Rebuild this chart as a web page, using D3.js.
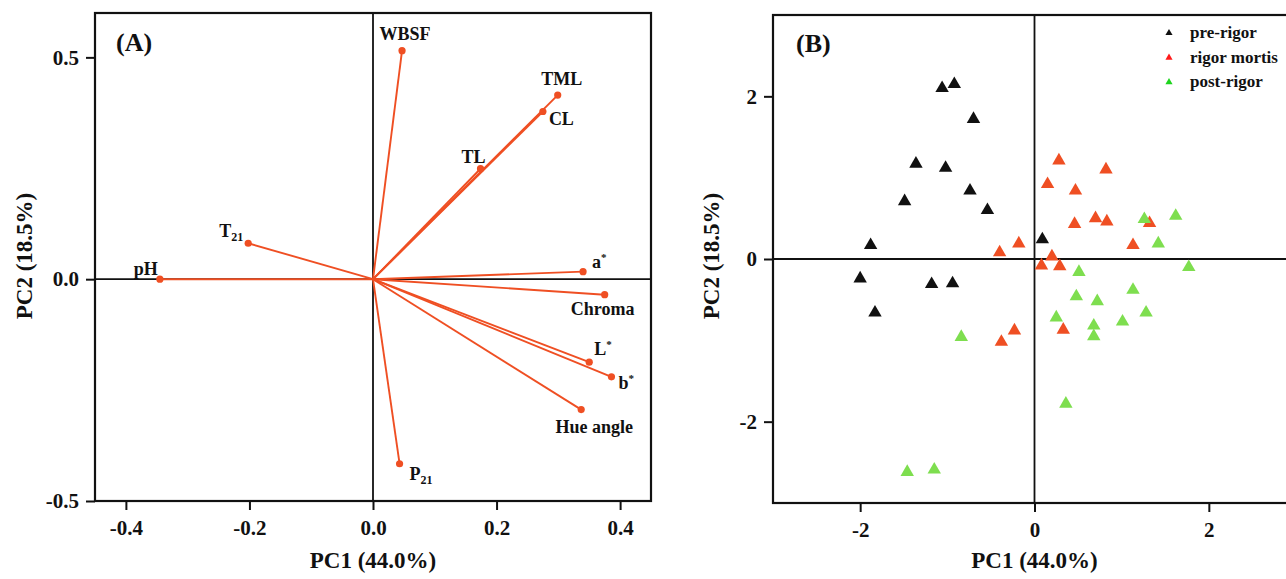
<!DOCTYPE html>
<html>
<head>
<meta charset="utf-8">
<script src="https://cdn.jsdelivr.net/npm/d3@7"></script>
<style>
    body { margin: 0; background: #fff; }
    svg text { font-family: "Liberation Serif", "Times New Roman", serif; font-weight: bold; fill: #111; }
</style>
</head>
<body>
<svg id="chart" width="1286" height="579"></svg>
<script>
// loadings (panel A)
const varNames = ["pH", "T21", "WBSF", "TML", "CL", "TL", "a*", "Chroma", "L*", "b*", "Hue angle", "P21"]
const pc1Loadings = [-0.345, -0.202, 0.047, 0.299, 0.275, 0.174, 0.34, 0.375, 0.35, 0.386, 0.337, 0.043]
const pc2Loadings = [0.0, 0.081, 0.515, 0.415, 0.378, 0.249, 0.017, -0.035, -0.187, -0.22, -0.294, -0.416]

// scores (panel B)
const groupNames = ["pre-rigor", "rigor mortis", "post-rigor"]
const preRigorPC1 = [-1.06, -0.92, -0.70, -1.36, -1.02, -0.74, -1.49, -0.54, -1.88, -2.0, -1.18, -0.94, -1.83, 0.09]
const preRigorPC2 = [2.10, 2.15, 1.72, 1.17, 1.12, 0.84, 0.71, 0.60, 0.17, -0.24, -0.31, -0.30, -0.66, 0.24]
const rigorPC1 = [0.28, 0.82, 0.15, 0.47, 0.46, 0.70, 0.83, 1.32, 1.13, -0.18, -0.40, 0.20, 0.08, 0.29, -0.23, -0.38, 0.33]
const rigorPC2 = [1.21, 1.10, 0.92, 0.84, 0.43, 0.50, 0.46, 0.44, 0.17, 0.19, 0.08, 0.03, -0.08, -0.09, -0.88, -1.02, -0.87]
const postRigorPC1 = [1.26, 1.62, 1.42, 1.77, 0.51, 0.48, 0.72, 1.13, 1.28, 0.25, 0.68, 1.01, 0.68, 0.36, -0.84, -1.46, -1.15]
const postRigorPC2 = [0.49, 0.53, 0.19, -0.10, -0.16, -0.46, -0.52, -0.38, -0.66, -0.72, -0.82, -0.77, -0.95, -1.78, -0.96, -2.62, -2.59]

const ticksA_x = [-0.4, -0.2, 0.0, 0.2, 0.4]
const ticksA_y = [-0.5, 0.0, 0.5]
const ticksB = [-2, 0, 2]

// label placement for loadings: [anchor, dx, dy]
const labelPos = {
    "pH": ["end", -2, -4],
    "T21": ["end", -5, -6],
    "WBSF": ["middle", 3, -11],
    "TML": ["middle", 4, -10],
    "CL": ["start", 6, 14],
    "TL": ["middle", -7, -6],
    "a*": ["start", 9, -4],
    "Chroma": ["middle", -2, 20],
    "L*": ["start", 5, -7],
    "b*": ["start", 7, 12],
    "Hue angle": ["middle", 13, 23],
    "P21": ["start", 10, 16],
}

const orange = "#ef4f23"
const groupColors = ["#111111", "#ef4f23", "#7ede4f"]
const legendColors = ["#111111", "#ff1a1a", "#1ed41e"]

let svg = d3.select("#chart")

function drawAxes(g, x, y, xt, yt, fmt) {
    g.append("g")
        .attr("transform", "translate(0," + y.range()[0] + ")")
        .call(d3.axisBottom(x).tickValues(xt).tickFormat(fmt).tickSize(9).tickSizeOuter(0).tickPadding(10))
        .call((a) => a.select(".domain").remove())
    g.append("g")
        .attr("transform", "translate(" + x.range()[0] + ",0)")
        .call(d3.axisLeft(y).tickValues(yt).tickFormat(fmt).tickSize(9).tickSizeOuter(0).tickPadding(7))
        .call((a) => a.select(".domain").remove())
    g.selectAll(".tick line").attr("stroke", "#111").attr("stroke-width", 2)
    g.selectAll(".tick text").style("font-size", "21px").attr("fill", "#111")

    // zero lines
    g.append("line").attr("x1", x(0)).attr("x2", x(0)).attr("y1", y.range()[1]).attr("y2", y.range()[0])
        .attr("stroke", "#111").attr("stroke-width", 1.8)
    g.append("line").attr("x1", x.range()[0]).attr("x2", x.range()[1]).attr("y1", y(0)).attr("y2", y(0))
        .attr("stroke", "#111").attr("stroke-width", 1.8)

    // frame
    g.append("rect")
        .attr("x", x.range()[0]).attr("y", y.range()[1])
        .attr("width", x.range()[1] - x.range()[0]).attr("height", y.range()[0] - y.range()[1])
        .attr("fill", "none").attr("stroke", "#111").attr("stroke-width", 2.2)
}

function axisTitles(g, x, ty) {
    g.append("text").attr("x", x(0)).attr("y", 568).attr("text-anchor", "middle")
        .style("font-size", "23px").text("PC1 (44.0%)")
    g.append("text").attr("transform", "translate(" + ty + ",256) rotate(-90)").attr("text-anchor", "middle")
        .style("font-size", "23px").text("PC2 (18.5%)")
}

// ---------- panel A ----------
let xA = d3.scaleLinear().domain([-0.45, 0.45]).range([95, 651])
let yA = d3.scaleLinear().domain([-0.5, 0.6]).range([501, 13])
let gA = svg.append("g")

drawAxes(gA, xA, yA, ticksA_x, ticksA_y, (d) => d3.format(".1f")(d).replace("−", "-"))

let loadings = varNames.map((n, i) => ({ name: n, x: pc1Loadings[i], y: pc2Loadings[i] }))

gA.append("g").selectAll("line").data(loadings).enter().append("line")
    .attr("x1", xA(0)).attr("y1", yA(0))
    .attr("x2", (d) => xA(d.x)).attr("y2", (d) => yA(d.y))
    .attr("stroke", orange).attr("stroke-width", 1.9)

gA.append("g").selectAll("circle").data(loadings).enter().append("circle")
    .attr("cx", (d) => xA(d.x)).attr("cy", (d) => yA(d.y)).attr("r", 3.6)
    .attr("fill", orange)

let labels = gA.append("g").selectAll("text").data(loadings).enter().append("text")
    .attr("x", (d) => xA(d.x) + labelPos[d.name][1])
    .attr("y", (d) => yA(d.y) + labelPos[d.name][2])
    .attr("text-anchor", (d) => labelPos[d.name][0])
    .style("font-size", "18px")

labels.each(function (d) {
    let t = d3.select(this)
    let m = d.name.match(/^([A-Za-z]+)(\d+)$/)
    if (d.name.endsWith("*")) {
        t.append("tspan").text(d.name.slice(0, -1))
        t.append("tspan").attr("dy", -7).style("font-size", "11px").text("*")
    } else if (m) {
        t.append("tspan").text(m[1])
        t.append("tspan").attr("dy", 4).style("font-size", "12px").text(m[2])
    } else {
        t.text(d.name)
    }
})

gA.append("text").attr("x", 116).attr("y", 51).style("font-size", "26px").text("(A)")
axisTitles(gA, xA, 32)

// ---------- panel B ----------
let xB = d3.scaleLinear().domain([-3, 3]).range([773, 1296])
let yB = d3.scaleLinear().domain([-3, 3]).range([503, 15])
let gB = svg.append("g")

drawAxes(gB, xB, yB, ticksB, ticksB, (d) => String(d))

let groups = [
    { name: groupNames[0], xs: preRigorPC1, ys: preRigorPC2 },
    { name: groupNames[1], xs: rigorPC1, ys: rigorPC2 },
    { name: groupNames[2], xs: postRigorPC1, ys: postRigorPC2 },
]

let tri = d3.symbol().type(d3.symbolTriangle).size(78)

groups.forEach((grp, gi) => {
    let pts = grp.xs.map((v, i) => [v, grp.ys[i]])
    gB.append("g").selectAll("path").data(pts).enter().append("path")
        .attr("d", tri)
        .attr("transform", (d) => "translate(" + xB(d[0]) + "," + yB(d[1]) + ")")
        .attr("fill", groupColors[gi])
})

let legend = gB.append("g")
let legendTri = d3.symbol().type(d3.symbolTriangle).size(22)
groupNames.forEach((n, i) => {
    let ly = 33 + i * 24.6
    legend.append("path").attr("d", legendTri)
        .attr("transform", "translate(1169," + ly + ")")
        .attr("fill", legendColors[i])
    legend.append("text").attr("x", 1190).attr("y", ly + 5).style("font-size", "17px").text(n)
})

gB.append("text").attr("x", 796).attr("y", 52).style("font-size", "26px").text("(B)")
axisTitles(gB, xB, 719)
</script>
</body>
</html>
